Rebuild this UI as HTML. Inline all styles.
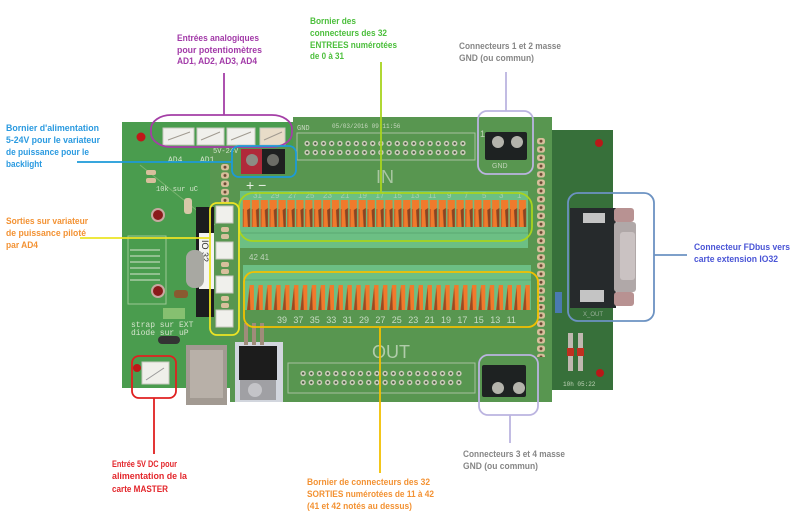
<!DOCTYPE html>
<html><head><meta charset="utf-8"><style>html,body{margin:0;padding:0;background:#fff}svg{display:block}</style></head>
<body>
<svg width="800" height="525" viewBox="0 0 800 525" xmlns="http://www.w3.org/2000/svg">
<defs>
<pattern id="tin" x="242" y="200" width="8.9" height="28" patternUnits="userSpaceOnUse">
 <rect width="8.9" height="28" fill="#6cbf84"/>
 <rect x="0.8" y="0" width="7.4" height="27" fill="#f07a2c"/>
 <polygon points="5,10 8.2,8 8.2,27 6,27" fill="#8a4422"/>
 <polygon points="0.8,9 2,9 1.8,27 0.8,27" fill="#c65a24"/>
</pattern>
<pattern id="tout" x="246" y="285" width="8.9" height="28" patternUnits="userSpaceOnUse">
 <rect width="8.9" height="28" fill="#6cbf84"/>
 <polygon points="3.6,0 7.9,0 7.9,25 1,25" fill="#f07a2c"/>
 <polygon points="1,25 3.6,2 4.4,25" fill="#9a4a22"/>
</pattern>
<pattern id="pins" x="303" y="139" width="8.2" height="9" patternUnits="userSpaceOnUse">
 <circle cx="4.1" cy="4.5" r="2.7" fill="#cfcfbc"/><circle cx="4.1" cy="4.5" r="1.2" fill="#3f573a"/>
</pattern>
<pattern id="pins2" x="299" y="369" width="8.2" height="9" patternUnits="userSpaceOnUse">
 <circle cx="4.1" cy="4.5" r="2.7" fill="#cfcfbc"/><circle cx="4.1" cy="4.5" r="1.2" fill="#3f573a"/>
</pattern>
<pattern id="pads" x="536" y="137" width="10" height="8.3" patternUnits="userSpaceOnUse">
 <rect x="1" y="1" width="8" height="6.3" rx="2.5" fill="#d8bf9c"/><circle cx="5" cy="4.15" r="1.5" fill="#6b4a35"/>
</pattern>
<pattern id="padsL" x="220" y="163" width="10" height="8.3" patternUnits="userSpaceOnUse">
 <rect x="1" y="1" width="8" height="6.3" rx="2.5" fill="#d8bf9c"/><circle cx="5" cy="4.15" r="1.5" fill="#6b4a35"/>
</pattern>
</defs>

<!-- boards -->
<rect x="122" y="122" width="180" height="266" fill="#4a9c4e"/>
<rect x="552" y="130" width="61" height="260" fill="#37703a"/>
<polygon points="293,117 552,117 552,402 230,402 230,340 210,340 210,147 293,147" fill="#589650"/>

<!-- master details -->
<line x1="140" y1="165" x2="215" y2="225" stroke="#79b46f" stroke-width="1"/>
<rect x="128" y="236" width="38" height="68" fill="none" stroke="#9cc894" stroke-width="1"/>
<g stroke="#d8e4d0" stroke-width="1">
<line x1="130" y1="250" x2="160" y2="250"/><line x1="130" y1="256" x2="160" y2="256"/><line x1="130" y1="262" x2="160" y2="262"/><line x1="130" y1="268" x2="160" y2="268"/><line x1="130" y1="274" x2="160" y2="274"/><line x1="130" y1="280" x2="160" y2="280"/>
</g>
<circle cx="141" cy="137" r="4.5" fill="#c01818"/>
<circle cx="158" cy="215" r="7" fill="#c8a8a0"/><circle cx="158" cy="215" r="5" fill="#8a1a1a"/>
<circle cx="158" cy="291" r="7" fill="#c8a8a0"/><circle cx="158" cy="291" r="5" fill="#8a1a1a"/>
<rect x="146" y="170" width="10" height="5" rx="2" fill="#d8bf9c"/><rect x="146" y="178" width="10" height="5" rx="2" fill="#d8bf9c"/>
<rect x="184" y="198" width="8" height="16" rx="3" fill="#d8c8a8"/>
<rect x="196" y="207" width="18" height="110" fill="#1c1c1e"/>
<rect x="199" y="233" width="15" height="56" fill="#f4f4f2"/>
<text x="202" y="240" font-family="Liberation Sans" font-size="9" fill="#333" transform="rotate(90 202 240)">IO 32</text>
<rect x="186" y="250" width="18" height="38" rx="8" fill="#a8a8a2"/>
<rect x="174" y="290" width="14" height="8" rx="3" fill="#8a5a30"/>
<rect x="163" y="308" width="22" height="11" fill="#86c070"/>
<rect x="158" y="336" width="22" height="8" rx="4" fill="#333"/>
<text x="156" y="191" font-family="Liberation Mono" font-size="7" fill="#d4e4cc">10k sur uC</text>
<text x="131" y="327" font-family="Liberation Mono" font-size="8" fill="#d4e4cc">strap sur EXT</text>
<text x="131" y="335" font-family="Liberation Mono" font-size="8" fill="#d4e4cc">diode sur uP</text>
<text x="168" y="162" font-family="Liberation Mono" font-size="8" fill="#d4e4cc">AD4</text>
<text x="200" y="162" font-family="Liberation Mono" font-size="8" fill="#d4e4cc">AD1</text>
<text x="213" y="153" font-family="Liberation Mono" font-size="7" fill="#d4e4cc">5V-24V</text>
<rect x="186" y="345" width="41" height="60" fill="#a29a92"/>
<rect x="190" y="350" width="33" height="48" fill="#b8b0a8"/>
<circle cx="137" cy="368" r="4" fill="#c01818"/>
<rect x="142" y="362" width="27" height="22" fill="#efefea" stroke="#c8c8c0"/>
<line x1="146" y1="380" x2="164" y2="368" stroke="#999" stroke-width="1"/>

<!-- top JSTs -->
<g fill="#f0f0ec" stroke="#c8c8c0" stroke-width="1">
<rect x="163" y="128" width="31" height="17"/>
<rect x="197" y="128" width="27" height="17"/>
<rect x="227" y="128" width="28" height="17"/>
<rect x="260" y="128" width="25" height="17" fill="#e8dcc8"/>
</g>
<g stroke="#a09a90" stroke-width="1">
<line x1="168" y1="140" x2="190" y2="132"/><line x1="201" y1="140" x2="220" y2="132"/><line x1="231" y1="140" x2="251" y2="132"/><line x1="264" y1="140" x2="282" y2="132"/>
</g>
<rect x="220" y="163" width="10" height="45" fill="url(#padsL)"/>

<!-- power terminal -->
<rect x="241" y="149" width="44" height="25" fill="#1f2020"/>
<rect x="241" y="149" width="21" height="25" fill="#b02a3a"/>
<circle cx="252" cy="160" r="6" fill="#8c8c84"/><circle cx="273" cy="160" r="6" fill="#6c6c66"/>
<text x="246" y="190" font-family="Liberation Sans" font-size="14" fill="#e8f0e4">+ −</text>

<!-- vertical JSTs -->
<g fill="#f0f0ec" stroke="#c8c8c0">
<rect x="216" y="206" width="17" height="17"/><rect x="216" y="242" width="17" height="17"/><rect x="216" y="276" width="17" height="17"/><rect x="216" y="310" width="17" height="17"/>
</g>
<g fill="#d8bf9c"><rect x="221" y="227" width="8" height="5" rx="2"/><rect x="221" y="234" width="8" height="5" rx="2"/><rect x="221" y="262" width="8" height="5" rx="2"/><rect x="221" y="269" width="8" height="5" rx="2"/><rect x="221" y="296" width="8" height="5" rx="2"/><rect x="221" y="303" width="8" height="5" rx="2"/></g>

<!-- headers -->
<rect x="297" y="133" width="178" height="27" fill="none" stroke="#a8c0a0" stroke-width="1"/>
<rect x="303" y="139" width="164" height="18" fill="url(#pins)"/>
<text x="297" y="130" font-family="Liberation Mono" font-size="7" fill="#c8d8c0">GND</text>
<text x="332" y="128" font-family="Liberation Mono" font-size="6" fill="#c8d8c0">05/03/2016 09:11:56</text>
<rect x="288" y="363" width="187" height="30" fill="none" stroke="#a8c0a0" stroke-width="1"/>
<rect x="299" y="369" width="164" height="18" fill="url(#pins2)"/>
<text x="376" y="183" font-family="Liberation Sans" font-size="18" fill="#a9c6a2">IN</text>
<text x="372" y="358" font-family="Liberation Sans" font-size="18" fill="#b0ccaa">OUT</text>

<!-- terminal blocks -->
<rect x="240" y="191" width="288" height="57" fill="#6cbf84"/>
<rect x="242" y="200" width="285" height="27" fill="url(#tin)"/>
<line x1="240" y1="233" x2="528" y2="233" stroke="#5aa872" stroke-width="1"/>
<g font-family="Liberation Sans" font-size="8" fill="#a8d0b0">
<text x="253" y="198">31</text><text x="270.5" y="198">29</text><text x="288" y="198">27</text><text x="305.5" y="198">25</text><text x="323" y="198">23</text><text x="340.5" y="198">21</text><text x="358" y="198">19</text><text x="375.5" y="198">17</text><text x="393" y="198">15</text><text x="410.5" y="198">13</text><text x="428" y="198">11</text><text x="447" y="198">9</text><text x="464" y="198">7</text><text x="482" y="198">5</text><text x="499" y="198">3</text><text x="517" y="198">1</text>
</g>
<text x="249" y="260" font-family="Liberation Sans" font-size="8" fill="#c0d4bc">42 41</text>
<rect x="243" y="265" width="288" height="45" fill="#6cbf84"/>
<line x1="243" y1="280" x2="531" y2="280" stroke="#5aa872" stroke-width="1"/>
<rect x="246" y="285" width="285" height="25" fill="url(#tout)"/>
<g font-family="Liberation Sans" font-size="9" fill="#c8dcc4">
<text x="277" y="323">39</text><text x="293.4" y="323">37</text><text x="309.8" y="323">35</text><text x="326.2" y="323">33</text><text x="342.6" y="323">31</text><text x="359" y="323">29</text><text x="375.4" y="323">27</text><text x="391.8" y="323">25</text><text x="408.2" y="323">23</text><text x="424.6" y="323">21</text><text x="441" y="323">19</text><text x="457.4" y="323">17</text><text x="473.8" y="323">15</text><text x="490.2" y="323">13</text><text x="506.6" y="323">11</text>
</g>

<!-- right pads -->
<rect x="536" y="137" width="10" height="220" fill="url(#pads)"/>

<!-- GND terminals -->
<rect x="485" y="132" width="42" height="28" rx="2" fill="#1e2222"/>
<circle cx="498" cy="142" r="6" fill="#b4b4ac"/><circle cx="517" cy="142" r="6" fill="#b4b4ac"/>
<text x="492" y="168" font-family="Liberation Sans" font-size="7" fill="#c0d4b8">GND</text>
<text x="480" y="137" font-family="Liberation Sans" font-size="9" fill="#c0d4b8">1</text>
<rect x="482" y="365" width="44" height="32" rx="2" fill="#1e2222"/>
<circle cx="498" cy="388" r="6" fill="#b4b4ac"/><circle cx="519" cy="388" r="6" fill="#b4b4ac"/>

<!-- regulator -->
<rect x="235" y="342" width="48" height="60" fill="#d2d6de"/>
<rect x="244" y="323" width="4" height="22" fill="#a08c7a"/><rect x="252" y="323" width="4" height="22" fill="#a08c7a"/><rect x="260" y="323" width="4" height="22" fill="#a08c7a"/>
<rect x="239" y="346" width="38" height="34" fill="#1c1c1c"/>
<rect x="240" y="380" width="36" height="20" fill="#a0a0a4"/>
<circle cx="255" cy="390" r="7" fill="#c4c4c8"/>

<!-- right board details -->
<circle cx="599" cy="143" r="4" fill="#b81818"/>
<circle cx="600" cy="373" r="4" fill="#b81818"/>
<rect x="555" y="292" width="7" height="21" fill="#4a7ab0"/>
<rect x="568" y="333" width="5" height="38" fill="#c0b8b0"/><rect x="578" y="333" width="5" height="38" fill="#c0b8b0"/>
<rect x="567" y="348" width="7" height="8" fill="#c03020"/><rect x="577" y="348" width="7" height="8" fill="#c03020"/>
<text x="563" y="386" font-family="Liberation Mono" font-size="6" fill="#c0d4b8">10h 05:22</text>
<!-- DB9 -->
<rect x="570" y="208" width="46" height="100" fill="#262a2c"/>
<rect x="614" y="208" width="20" height="14" rx="3" fill="#b89292"/>
<rect x="614" y="292" width="20" height="14" rx="3" fill="#b89292"/>
<rect x="614" y="222" width="22" height="70" rx="3" fill="#b0a8a8"/>
<rect x="620" y="232" width="15" height="48" rx="3" fill="#cac2c2"/>
<rect x="583" y="213" width="22" height="10" fill="#c4c4c4"/>
<rect x="580" y="290" width="24" height="12" fill="#c4c4c4"/>
<text x="583" y="316" font-family="Liberation Sans" font-size="6" fill="#9ab09a">X_OUT</text>

<!-- annotation shapes -->
<g fill="none" stroke-width="1.8">
<line x1="224" y1="73" x2="224" y2="115" stroke="#a43ea6"/>
<rect x="151" y="115" width="141" height="32" rx="20" ry="14" stroke="#a43ea6"/>
<line x1="381" y1="62" x2="381" y2="193" stroke="#a8d41e"/>
<rect x="239" y="193" width="293" height="48" rx="14" stroke="#a8d41e"/>
<line x1="506" y1="72" x2="506" y2="111" stroke="#bbb4e0"/>
<rect x="478" y="111" width="55" height="63" rx="9" stroke="#bbb4e0"/>
<line x1="77" y1="162" x2="232" y2="162" stroke="#1c9ad8"/>
<rect x="232" y="146" width="64" height="31" rx="7" stroke="#1c9ad8"/>
<line x1="80" y1="238" x2="210" y2="238" stroke="#ece424"/>
<rect x="210" y="203" width="29" height="132" rx="7" stroke="#ece424"/>
<line x1="380" y1="327" x2="380" y2="473" stroke="#f2c000"/>
<rect x="244" y="272" width="294" height="55" rx="10" stroke="#f2c000"/>
<line x1="510" y1="415" x2="510" y2="443" stroke="#bbb4e0"/>
<rect x="479" y="355" width="59" height="60" rx="9" stroke="#bbb4e0"/>
<line x1="154" y1="398" x2="154" y2="454" stroke="#e02020"/>
<rect x="132" y="356" width="44" height="42" rx="7" stroke="#e02020"/>
<line x1="654" y1="255" x2="687" y2="255" stroke="#6c92c2"/>
<rect x="568" y="193" width="86" height="128" rx="10" stroke="#6c92c2"/>
</g>

<!-- labels -->
<g font-family="Liberation Sans, sans-serif" font-size="9.5" font-weight="bold">
<g fill="#a23aa8">
<text x="177" y="41" textLength="82" lengthAdjust="spacingAndGlyphs">Entrées analogiques</text>
<text x="177" y="53" textLength="85" lengthAdjust="spacingAndGlyphs">pour potentiomètres</text>
<text x="177" y="64" textLength="80" lengthAdjust="spacingAndGlyphs">AD1, AD2, AD3, AD4</text>
</g>
<g fill="#4cbf3c">
<text x="310" y="24" textLength="46" lengthAdjust="spacingAndGlyphs">Bornier des</text>
<text x="310" y="36" textLength="77" lengthAdjust="spacingAndGlyphs">connecteurs des 32</text>
<text x="310" y="48" textLength="87" lengthAdjust="spacingAndGlyphs">ENTREES numérotées</text>
<text x="310" y="59" textLength="34" lengthAdjust="spacingAndGlyphs">de 0 à 31</text>
</g>
<g fill="#868686">
<text x="459" y="49" textLength="102" lengthAdjust="spacingAndGlyphs">Connecteurs 1 et 2 masse</text>
<text x="459" y="61" textLength="75" lengthAdjust="spacingAndGlyphs">GND (ou commun)</text>
<text x="463" y="457" textLength="102" lengthAdjust="spacingAndGlyphs">Connecteurs 3 et 4 masse</text>
<text x="463" y="469" textLength="75" lengthAdjust="spacingAndGlyphs">GND (ou commun)</text>
</g>
<g fill="#2a9ae0">
<text x="6" y="131" textLength="93" lengthAdjust="spacingAndGlyphs">Bornier d'alimentation</text>
<text x="6" y="143" textLength="94" lengthAdjust="spacingAndGlyphs">5-24V pour le variateur</text>
<text x="6" y="155" textLength="83" lengthAdjust="spacingAndGlyphs">de puissance pour le</text>
<text x="6" y="167" textLength="36" lengthAdjust="spacingAndGlyphs">backlight</text>
</g>
<g fill="#f39233">
<text x="6" y="224" textLength="82" lengthAdjust="spacingAndGlyphs">Sorties sur variateur</text>
<text x="6" y="236" textLength="80" lengthAdjust="spacingAndGlyphs">de puissance piloté</text>
<text x="6" y="248" textLength="32" lengthAdjust="spacingAndGlyphs">par AD4</text>
<text x="307" y="485" textLength="123" lengthAdjust="spacingAndGlyphs">Bornier de connecteurs des 32</text>
<text x="307" y="497" textLength="127" lengthAdjust="spacingAndGlyphs">SORTIES numérotées de 11 à 42</text>
<text x="307" y="509" textLength="105" lengthAdjust="spacingAndGlyphs">(41 et 42 notés au dessus)</text>
</g>
<g fill="#4a55d6">
<text x="694" y="250" textLength="96" lengthAdjust="spacingAndGlyphs">Connecteur FDbus  vers</text>
<text x="694" y="262" textLength="84" lengthAdjust="spacingAndGlyphs">carte extension IO32</text>
</g>
<g fill="#e3262b">
<text x="112" y="467" textLength="65" lengthAdjust="spacingAndGlyphs">Entrée 5V DC pour</text>
<text x="112" y="479" textLength="75" lengthAdjust="spacingAndGlyphs">alimentation de la</text>
<text x="112" y="492" textLength="56" lengthAdjust="spacingAndGlyphs">carte MASTER</text>
</g>
</g>
</svg>
</body></html>
